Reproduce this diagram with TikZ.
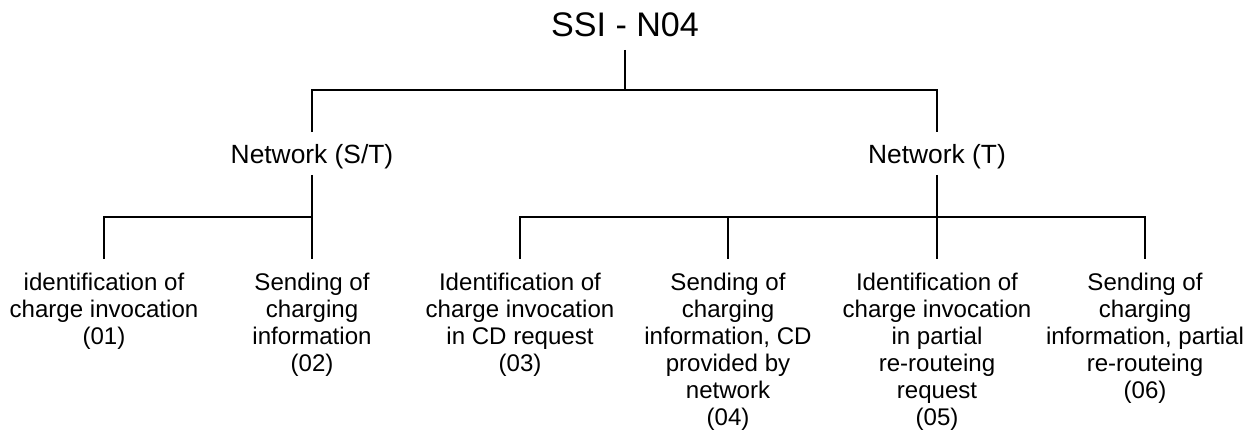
\documentclass[tikz,border=0pt]{standalone}
\usepackage{fontspec}
\setmainfont{Liberation Sans}
\begin{document}
\begin{tikzpicture}[x = 0.02cm, y = -0.02cm, line width = 0.9pt,
    rootlabel/.style = {anchor = base, inner sep = 0pt, text depth = 0.24cm,
      font = \fontsize{19.4}{23}\selectfont},
    branch/.style = {anchor = base, inner sep = 0pt, text height = 0.62cm, text depth = 0.2cm,
      font = \fontsize{15}{18}\selectfont},
    leaf/.style = {anchor = north, align = center, inner xsep = 0pt, inner ysep = 0.26cm,
      font = \fontsize{13.7}{15.4}\selectfont}]
        \useasboundingbox (0, 0) rectangle (1250, 431);
        \node[rootlabel] (root) at (625, 37) {SSI - N04};
        \node[branch] (st) at (312, 164) {Network (S/T)};
        \node[branch] (t) at (937, 164) {Network (T)};
        
        \foreach \n/\x/\txt in {01/104/{identification of\\charge invocation\\(01)},
            02/312/{Sending of\\charging\\information\\(02)},
            03/520/{Identification of\\charge invocation\\in CD request\\(03)},
            04/728/{Sending of\\charging\\information, CD\\provided by\\network\\(04)},
            05/937/{Identification of\\charge invocation\\in partial\\re-routeing\\request\\(05)},
            06/1145/{Sending of\\charging\\information, partial\\re-routeing\\(06)}}
          \node[leaf] (l\n) at (\x, 259) {\txt};
        
        \coordinate (top) at (625, 90);
        \coordinate (jst) at (312, 217);
        \coordinate (jt) at (937, 217);
        \draw (root.south) -- (top);
        \draw (st.north) |- (top) -| (t.north);
        \draw (st.south) -- (jst);
        \draw (l01.north) |- (jst) -- (l02.north);
        \draw (t.south) -- (jt) -- (l05.north);
        \draw (l03.north) |- (jt) -| (l06.north);
        \draw (l04.north) -- (l04.north |- jt);
      \end{tikzpicture}
\end{document}
